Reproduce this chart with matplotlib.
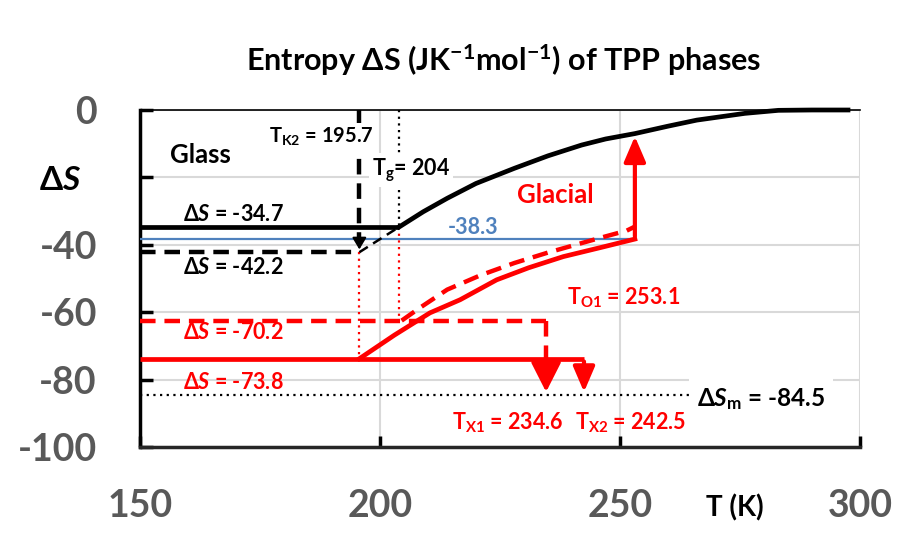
import matplotlib.pyplot as plt

plt.rcParams['font.family'] = ['Lato', 'DejaVu Sans']
plt.rcParams['font.weight'] = 'bold'
plt.rcParams['mathtext.fontset'] = 'custom'
plt.rcParams['mathtext.rm'] = 'Lato:bold'
plt.rcParams['mathtext.it'] = 'Lato:bold'
plt.rcParams['mathtext.bf'] = 'Lato:bold'
plt.rcParams['mathtext.sf'] = 'Lato:bold:italic'
plt.rcParams['mathtext.fallback'] = 'stixsans'

# temperatures (K) and entropies (J/K/mol)
t_glass = [150, 204]
s_glass = [-34.7, -34.7]
t_liquid = [204, 209, 214, 220, 228, 235, 242, 247, 253.1, 260, 266, 276, 283, 290, 297.5]
s_liquid = [-34.7, -30.2, -26.2, -21.8, -17.3, -13.6, -10.4, -8.6, -7.0, -4.8, -3.0, -1.0, -0.1, 0, 0]
t_glass2 = [150, 195.7]
s_glass2 = [-42.2, -42.2]
t_glass2_up = [195.7, 204]
s_glass2_up = [-42.2, -34.7]

t_glacial1 = [150, 242.5]
s_glacial1 = [-73.8, -73.8]
t_glacial1_up = [195.7, 203, 210.4, 216.7, 224.3, 231, 238.2, 246, 253.1]
s_glacial1_up = [-73.8, -66.8, -60.2, -56.3, -50.4, -46.8, -43.5, -40.8, -38.3]
t_glacial2 = [150, 234.6]
s_glacial2 = [-62.5, -62.5]
t_glacial2_up = [204.5, 208.3, 214, 221, 228, 235, 242, 247, 251.4, 253.1]
s_glacial2_up = [-62.5, -58.7, -53.3, -49.0, -45.4, -42.3, -39.5, -37.5, -35.8, -34.6]

t_blue = [150, 253.1]
s_blue = [-38.3, -38.3]
t_melt = [150, 264.5]
s_melt = [-84.5, -84.5]

T_K2 = 195.7
T_g = 204
T_O1 = 253.1
T_X1 = 234.6
T_X2 = 242.5

yticks = [-100, -80, -60, -40, -20, 0]
ylabels = ['-100', '-80', '-60', '-40', '', '0']
xticks = [150, 200, 250, 300]
xlabels = ['150', '200', '250', '300']

RED = '#ff0000'
BLUE = '#4f81bd'
GRAY = '#595959'

fig = plt.figure(figsize=(9.01, 5.43), dpi=100)
ax = fig.add_axes([140 / 901, 1 - 447 / 543, 720 / 901, 337 / 543])
ax.set_xlim(150, 300)
ax.set_ylim(-100, 0)

ax.grid(color='#d9d9d9', lw=1.5)
ax.set_axisbelow(True)
ax.spines['right'].set_visible(False)
ax.spines['top'].set_linewidth(1.2)
ax.spines['left'].set_linewidth(2.5)
ax.spines['bottom'].set_linewidth(2.5)
ax.spines['bottom'].set_color('#262626')

ax.set_yticks(yticks)
ax.set_yticklabels(ylabels)
ax.set_xticks(xticks)
ax.set_xticklabels(xlabels)
ax.tick_params(axis='y', direction='in', length=9, width=2.5, pad=31,
               labelsize=27, labelcolor=GRAY)
ax.tick_params(axis='x', direction='in', length=8, width=2.5, pad=30,
               labelsize=27, labelcolor=GRAY)

# guide lines
ax.plot([T_g, T_g], [0, -34.7], color='black', ls=(0, (1, 2)), lw=1.6, zorder=2)
ax.plot([T_g, T_g], [-34.7, -62.5], color=RED, ls=(0, (1, 2)), lw=1.6, zorder=2)
ax.plot([T_K2, T_K2], [-42.2, -73.8], color=RED, ls=(0, (1, 2)), lw=1.6, zorder=2)
ax.plot(t_melt, s_melt, color='black', ls=(0, (1, 2)), lw=1.6, zorder=2)
ax.plot(t_blue, s_blue, color=BLUE, lw=1.6, zorder=3)

# glass / liquid
ax.plot(t_glass, s_glass, color='black', lw=3.4, zorder=4, solid_capstyle='butt')
ax.plot(t_liquid, s_liquid, color='black', lw=3.4, zorder=4, clip_on=False)
ax.plot(t_glass2, s_glass2, color='black', lw=3.2, ls=(0, (3.5, 2)), zorder=4)
ax.plot(t_glass2_up, s_glass2_up, color='black', lw=1.8, ls=(0, (4, 2.5)), zorder=4)
ax.plot([T_K2, T_K2], [0, -39], color='black', lw=3.2, ls=(0, (3.5, 2)), zorder=4,
        clip_on=False)
ax.annotate('', xy=(T_K2, -42.2), xytext=(T_K2, -38.5),
            arrowprops=dict(arrowstyle='-|>,head_length=0.5,head_width=0.3',
                            color='black', lw=1.5, mutation_scale=14), zorder=5)

# glacial phases
ax.plot(t_glacial1, s_glacial1, color=RED, lw=3.4, zorder=4, solid_capstyle='butt')
ax.plot(t_glacial1_up, s_glacial1_up, color=RED, lw=3.4, zorder=4)
ax.plot(t_glacial2, s_glacial2, color=RED, lw=3.2, ls=(0, (3.5, 2)), zorder=4)
ax.plot(t_glacial2_up, s_glacial2_up, color=RED, lw=3.2, ls=(0, (3.5, 2)), zorder=4)
ax.plot([T_X1, T_X1], [-62.5, -77], color=RED, lw=3.2, ls=(0, (3.5, 2)), zorder=4)
ax.annotate('', xy=(T_X1, -84.5), xytext=(T_X1, -76),
            arrowprops=dict(arrowstyle='-|>,head_length=0.75,head_width=0.38',
                            color=RED, lw=3, mutation_scale=24), zorder=5)
ax.annotate('', xy=(T_X2, -84.5), xytext=(T_X2, -73.8),
            arrowprops=dict(arrowstyle='-|>,head_length=0.7,head_width=0.3',
                            color=RED, lw=3, mutation_scale=22), zorder=5)
ax.annotate('', xy=(T_O1, -7.0), xytext=(T_O1, -38.3),
            arrowprops=dict(arrowstyle='-|>,head_length=0.7,head_width=0.3',
                            color=RED, lw=3, mutation_scale=22), zorder=5)

# labels
white = dict(facecolor='white', edgecolor='none', pad=2)
ax.text(156.3, -13.3, 'Glass', fontsize=18.5, va='center', ha='left')
ax.text(176.8, -8.0, r'T$_{\mathrm{K2}}$ = 195.7', fontsize=14.5, va='center', ha='left',
        bbox=white, zorder=6)
ax.text(198.3, -17.8, r'T$_{\mathrm{g}}$= 204', fontsize=15.5, va='center', ha='left',
        bbox=white, zorder=6)
ax.text(228.5, -25.2, 'Glacial', fontsize=18.5, color=RED, va='center', ha='left')
ax.text(159, -31.1, r'$\Delta\mathsf{S}$ = -34.7', fontsize=15.5, va='center', ha='left')
ax.text(159, -46.8, r'$\Delta\mathsf{S}$ = -42.2', fontsize=15.5, va='center', ha='left')
ax.text(214.2, -35.0, '-38.3', fontsize=15.5, color=BLUE, va='center', ha='left')
ax.text(239, -55.7, r'T$_{\mathrm{O1}}$ = 253.1', fontsize=15.5, color=RED,
        va='center', ha='left')
ax.text(159, -66.1, r'$\Delta\mathsf{S}$ = -70.2', fontsize=15.5, color=RED,
        va='center', ha='left')
ax.text(159, -80.9, r'$\Delta\mathsf{S}$ = -73.8', fontsize=15.5, color=RED,
        va='center', ha='left')
ax.text(266, -85.9, r'$\Delta\mathsf{S}_{\mathrm{m}}$ = -84.5', fontsize=17.5,
        va='center', ha='left', bbox=dict(facecolor='white', edgecolor='none', pad=6),
        zorder=6)
ax.text(215, -92.7, r'T$_{\mathrm{X1}}$ = 234.6', fontsize=15.5, color=RED,
        va='center', ha='left')
ax.text(240.6, -92.7, r'T$_{\mathrm{X2}}$ = 242.5', fontsize=15.5, color=RED,
        va='center', ha='left')

fig.text(504 / 901, 1 - 60 / 543,
         r'Entropy $\Delta$S (JK$^{\mathrm{-1}}$mol$^{\mathrm{-1}}$) of TPP phases',
         fontsize=22, ha='center', va='center')
fig.text(60 / 901, 1 - 180 / 543, r'$\Delta\mathsf{S}$', fontsize=24,
         ha='center', va='center')
fig.text(735 / 901, 1 - 508 / 543, 'T (K)', fontsize=20, ha='center', va='center')

fig.savefig('out.png', dpi=100)
